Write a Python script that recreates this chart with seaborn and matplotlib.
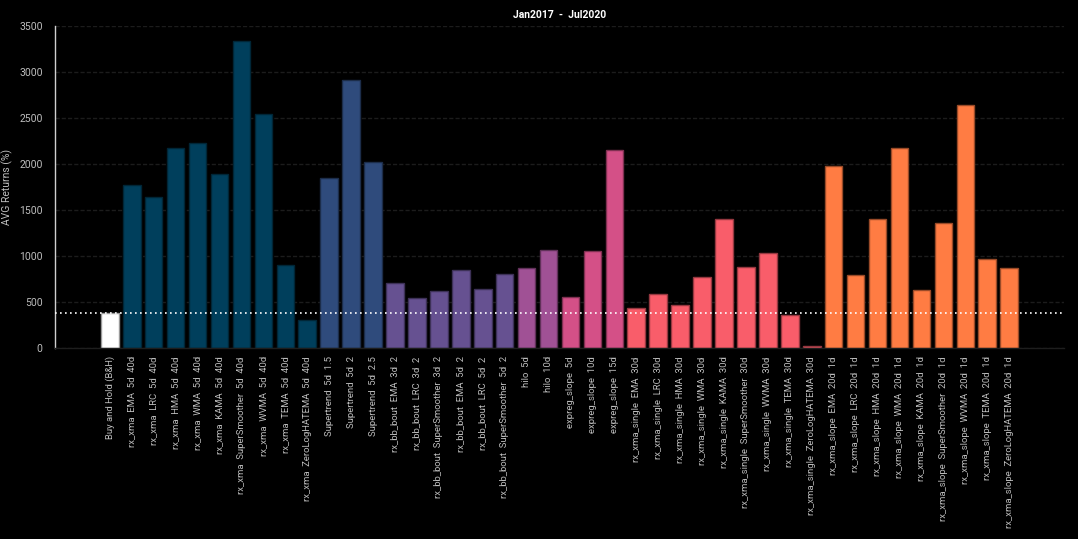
import matplotlib
matplotlib.use("Agg")
import matplotlib.pyplot as plt
import matplotlib.colors as mcolors
import seaborn as sns
import pandas as pd

labels = [
    "Buy and Hold (B&H)",
    "rx_xma  EMA  5d  40d", "rx_xma  LRC  5d  40d", "rx_xma  HMA  5d  40d",
    "rx_xma  WMA  5d  40d", "rx_xma  KAMA  5d  40d", "rx_xma  SuperSmoother  5d  40d",
    "rx_xma  WVMA  5d  40d", "rx_xma  TEMA  5d  40d", "rx_xma  ZeroLogHATEMA  5d  40d",
    "Supertrend  5d  1.5", "Supertrend  5d  2", "Supertrend  5d  2.5",
    "rx_bb_bout  EMA  3d  2", "rx_bb_bout  LRC  3d  2", "rx_bb_bout  SuperSmoother  3d  2",
    "rx_bb_bout  EMA  5d  2", "rx_bb_bout  LRC  5d  2", "rx_bb_bout  SuperSmoother  5d  2",
    "hilo  5d", "hilo  10d",
    "expreg_slope  5d", "expreg_slope  10d", "expreg_slope  15d",
    "rx_xma_single  EMA  30d", "rx_xma_single  LRC  30d", "rx_xma_single  HMA  30d",
    "rx_xma_single  WMA  30d", "rx_xma_single  KAMA  30d", "rx_xma_single  SuperSmoother  30d",
    "rx_xma_single  WVMA  30d", "rx_xma_single  TEMA  30d", "rx_xma_single  ZeroLogHATEMA  30d",
    "rx_xma_slope  EMA  20d  1d", "rx_xma_slope  LRC  20d  1d", "rx_xma_slope  HMA  20d  1d",
    "rx_xma_slope  WMA  20d  1d", "rx_xma_slope  KAMA  20d  1d", "rx_xma_slope  SuperSmoother  20d  1d",
    "rx_xma_slope  WVMA  20d  1d", "rx_xma_slope  TEMA  20d  1d", "rx_xma_slope  ZeroLogHATEMA  20d  1d",
]
returns = [
    383,
    1767, 1637, 2170, 2225, 1895, 3336, 2541, 907, 305,
    1851, 2911, 2018,
    708, 540, 621, 853, 642, 809,
    871, 1070,
    551, 1049, 2156,
    436, 591, 464, 769, 1397, 885, 1034, 363, 25,
    1982, 795, 1397, 2178, 632, 1361, 2639, 962, 875,
]
groups = (["bh"] + ["rx_xma"] * 9 + ["supertrend"] * 3 + ["bb"] * 6 + ["hilo"] * 2
          + ["expreg"] * 3 + ["single"] * 9 + ["slope"] * 9)
group_colors = {
    "bh": "#ffffff", "rx_xma": "#003f5c", "supertrend": "#2f4b7c", "bb": "#665191",
    "hilo": "#a05195", "expreg": "#d45087", "single": "#f95d6a", "slope": "#ff7c43",
}
benchmark = returns[0]

df = pd.DataFrame({"label": labels, "ret": returns, "group": groups})

sns.set_theme(style="dark")
plt.rcParams["font.family"] = ["Roboto", "DejaVu Sans"]

fig = plt.figure(figsize=(10.78, 5.39), dpi=100, facecolor="black")
ax = fig.add_axes([55 / 1078, 191 / 539, 1009 / 1078, 322 / 539])
ax.set_facecolor("black")

sns.barplot(data=df, x="label", y="ret", hue="group", palette=group_colors,
            dodge=False, width=0.8, legend=False, ax=ax, saturation=1)
for p in ax.patches:
    fc = mcolors.to_rgb(p.get_facecolor())
    ec = tuple(c * 0.6 for c in fc)
    p.set_edgecolor(ec)
    p.set_linewidth(1.0)

ax.axhline(benchmark, color="white", linestyle=(0, (1, 2)), linewidth=1.2, zorder=5)

ax.set_xlim(-2.5, 43.5)
ax.set_ylim(0, 3500)
ax.set_yticks(range(0, 3501, 500))
ax.yaxis.grid(True, color="#1c1c1c", linestyle=(0, (3, 1.5)), linewidth=1)
ax.xaxis.grid(False)
ax.set_axisbelow(True)

ax.tick_params(axis="x", rotation=90, labelsize=6.8, colors="#bdbdbd", length=0, pad=6)
ax.tick_params(axis="y", labelsize=7.5, colors="#bdbdbd", length=0, pad=9)
ax.set_xlabel("")
ax.set_ylabel("AVG Returns (%)", color="#bdbdbd", fontsize=7.5, labelpad=4)
ax.set_title("Jan2017  -  Jul2020", color="white", fontsize=7.5, fontweight="bold", pad=6)

for s in ["top", "right"]:
    ax.spines[s].set_visible(False)
ax.spines["left"].set_color("#cfcfcf")
ax.spines["left"].set_linewidth(1)
ax.spines["bottom"].set_color("#1e1e1e")
ax.spines["bottom"].set_linewidth(1)

fig.savefig("out.png", dpi=100, facecolor="black")
